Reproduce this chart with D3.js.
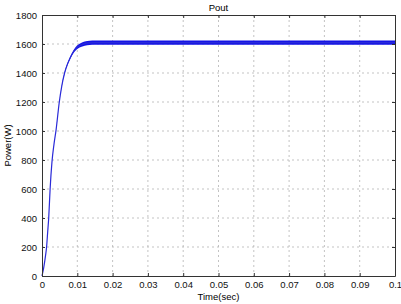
<!DOCTYPE html>
<html>
<head>
<meta charset="utf-8">
<script src="https://cdn.jsdelivr.net/npm/d3@7"></script>
<style>
  body { margin: 0; background: #fff; }
  text { font-family: Arial, "Liberation Sans", sans-serif; }
</style>
</head>
<body>
<div id="frame"></div>
<script>
// data
const timeSec = [0, 0.0005, 0.0010, 0.0013, 0.0016, 0.0019, 0.0023, 0.0028, 0.0034, 0.0040, 0.0049, 0.0056,
                 0.0064, 0.0072, 0.0079, 0.0090, 0.0101, 0.0112, 0.0121, 0.0135, 0.0150, 0.0200, 0.0300,
                 0.0400, 0.0500, 0.0600, 0.0700, 0.0800, 0.0900, 0.1000];
const powerW  = [0, 60, 140, 200, 300, 400, 600, 780, 910, 1010, 1200, 1310,
                 1400, 1460, 1500, 1550, 1580, 1595, 1603, 1608, 1610, 1610, 1610,
                 1610, 1610, 1610, 1610, 1610, 1610, 1610];
// half-height of the ripple band
const rippleW = [0, 0, 0, 0, 0, 0, 0, 0, 0, 0, 0, 3,
                 5, 7, 9, 11, 13, 14, 15, 15, 15, 15, 15,
                 15, 15, 15, 15, 15, 15, 15];
const xTicks = [0, 0.01, 0.02, 0.03, 0.04, 0.05, 0.06, 0.07, 0.08, 0.09, 0.1];
const yTicks = [0, 200, 400, 600, 800, 1000, 1200, 1400, 1600, 1800];

const frameWidth = 401;
const frameHeight = 304;
const plotLeft = 42, plotRight = 395, plotTop = 15, plotBottom = 276;

let svg = d3.select("#frame")
        .append("svg")
        .attr("width", frameWidth)
        .attr("height", frameHeight);

let xScale = d3.scaleLinear().domain([0, 0.1]).range([plotLeft, plotRight]);
let yScale = d3.scaleLinear().domain([0, 1800]).range([plotBottom, plotTop]);

let data = timeSec.map((t, i) => ({t: t, p: powerW[i], r: rippleW[i]}));

// grid
svg.append("g")
    .selectAll("line")
    .data(xTicks.slice(1, -1))
    .enter()
    .append("line")
    .attr("x1", d => xScale(d)).attr("x2", d => xScale(d))
    .attr("y1", plotTop).attr("y2", plotBottom)
    .style("stroke", "#b4b4b4")
    .style("stroke-width", 0.8)
    .style("stroke-dasharray", "2,3");

svg.append("g")
    .selectAll("line")
    .data(yTicks.slice(1, -1))
    .enter()
    .append("line")
    .attr("x1", plotLeft).attr("x2", plotRight)
    .attr("y1", d => yScale(d)).attr("y2", d => yScale(d))
    .style("stroke", "#b4b4b4")
    .style("stroke-width", 0.8)
    .style("stroke-dasharray", "2,3");

// ripple band and line
svg.append("path")
    .datum(data)
    .attr("d", d3.area()
        .x(d => xScale(d.t))
        .y0(d => yScale(d.p - d.r))
        .y1(d => yScale(d.p + d.r))
        .curve(d3.curveMonotoneX))
    .style("fill", "#1414e6");

svg.append("path")
    .datum(data)
    .attr("d", d3.line()
        .x(d => xScale(d.t))
        .y(d => yScale(d.p))
        .curve(d3.curveMonotoneX))
    .style("fill", "none")
    .style("stroke", "#2a2ad8")
    .style("stroke-width", 1.2);

// axes (box with inward ticks)
let axisStyle = g => {
    g.select(".domain").attr("stroke", "#333");
    g.selectAll(".tick line").attr("stroke", "#333");
    g.selectAll(".tick text").style("font-size", "9.5px").attr("fill", "#111")
        .style("font-family", "Arial, 'Liberation Sans', sans-serif");
};

svg.append("g")
    .attr("transform", "translate(0," + plotBottom + ")")
    .call(d3.axisBottom(xScale).tickValues(xTicks).tickFormat(d => d === 0 ? "0" : String(+d.toFixed(2)))
        .tickSizeInner(-3).tickSizeOuter(0).tickPadding(5))
    .call(axisStyle);

svg.append("g")
    .attr("transform", "translate(0," + plotTop + ")")
    .call(d3.axisTop(xScale).tickValues(xTicks).tickFormat("").tickSizeInner(-3).tickSizeOuter(0))
    .call(axisStyle);

svg.append("g")
    .attr("transform", "translate(" + plotLeft + ",0)")
    .call(d3.axisLeft(yScale).tickValues(yTicks).tickFormat(d => String(d))
        .tickSizeInner(-3).tickSizeOuter(0).tickPadding(5))
    .call(axisStyle);

svg.append("g")
    .attr("transform", "translate(" + plotRight + ",0)")
    .call(d3.axisRight(yScale).tickValues(yTicks).tickFormat("").tickSizeInner(-3).tickSizeOuter(0))
    .call(axisStyle);

// labels
svg.append("text")
    .attr("x", (plotLeft + plotRight) / 2)
    .attr("y", 11)
    .attr("text-anchor", "middle")
    .style("font-size", "9.5px")
    .text("Pout");

svg.append("text")
    .attr("x", (plotLeft + plotRight) / 2)
    .attr("y", 300)
    .attr("text-anchor", "middle")
    .style("font-size", "9.5px")
    .text("Time(sec)");

svg.append("text")
    .attr("transform", "rotate(-90)")
    .attr("x", -(plotTop + plotBottom) / 2)
    .attr("y", 11)
    .attr("text-anchor", "middle")
    .style("font-size", "9.5px")
    .text("Power(W)");
</script>
</body>
</html>
